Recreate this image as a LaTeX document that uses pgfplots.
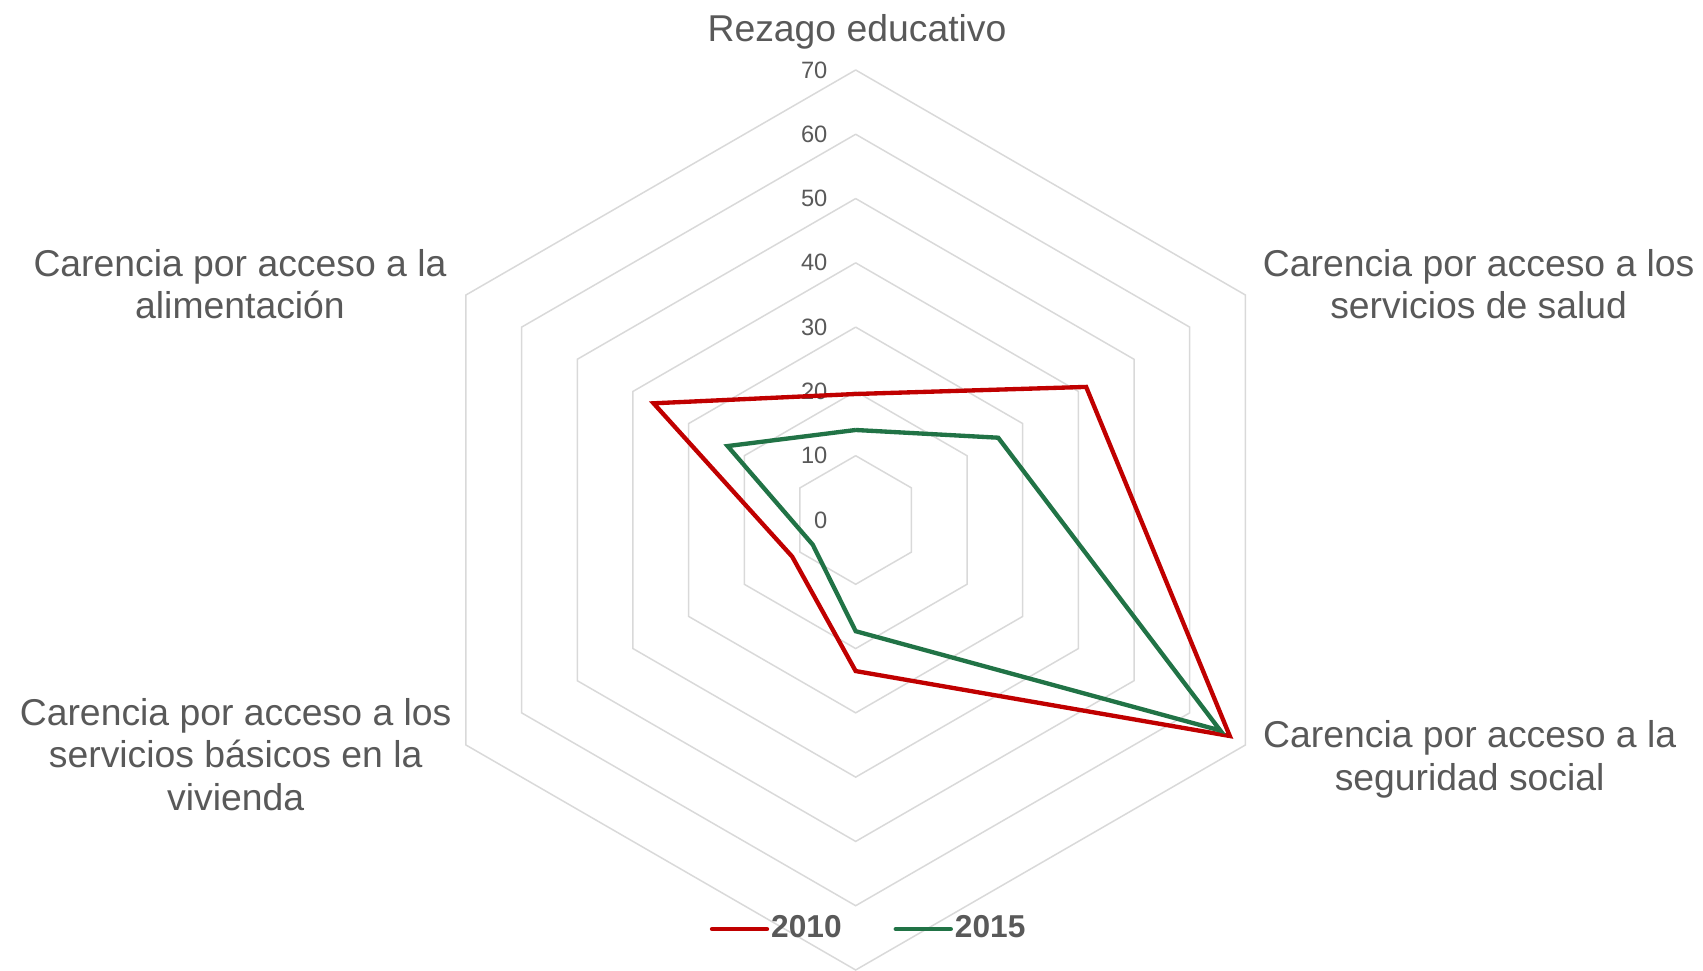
\documentclass[border=0pt]{standalone}
\usepackage{fontspec}
\setmainfont{Liberation Sans}
\usepackage{pgfplots}
\pgfplotsset{compat=1.18}
\usepgfplotslibrary{polar}

\definecolor{txt}{HTML}{595959}
\definecolor{gridc}{HTML}{D9D9D9}
\definecolor{c2010}{HTML}{C00000}
\definecolor{c2015}{HTML}{217346}

% radar rings, one hexagon per level
\pgfplotsset{ring/.style={forget plot, gridc, line width=0.45pt}}

\begin{document}
\begin{tikzpicture}
\path[use as bounding box] (0,0) rectangle (510.9pt,291.3pt);
\begin{polaraxis}[
  at={(256.7pt,135.3pt)}, anchor=center,
  scale only axis, width=270pt, height=270pt,
  ymin=0, ymax=70, hide axis, clip=false,
  legend columns=2,
  legend style={at={(0.5144,0.0455)}, anchor=center, draw=none, fill=none,
    font=\fontsize{9.5}{11}\selectfont\bfseries, text=txt,
    nodes={inner sep=0.6pt},
    /tikz/every even column/.append style={column sep=15pt}},
  legend image code/.code={\draw[#1, line cap=round] (0pt,0pt) -- (16.5pt,0pt);},
]
\addplot[ring] coordinates {(90,10)(30,10)(-30,10)(-90,10)(-150,10)(150,10)(90,10)};
\addplot[ring] coordinates {(90,20)(30,20)(-30,20)(-90,20)(-150,20)(150,20)(90,20)};
\addplot[ring] coordinates {(90,30)(30,30)(-30,30)(-90,30)(-150,30)(150,30)(90,30)};
\addplot[ring] coordinates {(90,40)(30,40)(-30,40)(-90,40)(-150,40)(150,40)(90,40)};
\addplot[ring] coordinates {(90,50)(30,50)(-30,50)(-90,50)(-150,50)(150,50)(90,50)};
\addplot[ring] coordinates {(90,60)(30,60)(-30,60)(-90,60)(-150,60)(150,60)(90,60)};
\addplot[ring] coordinates {(90,70)(30,70)(-30,70)(-90,70)(-150,70)(150,70)(90,70)};

\foreach \r in {0,10,...,70}{
  \edef\tmp{\noexpand\node[anchor=east, xshift=-8.3pt, inner sep=0pt, text=txt,
    font=\noexpand\fontsize{7.1}{8}\noexpand\selectfont] at (axis cs:90,\r) {\r};}
  \tmp
}

% 2010
\addplot[c2010, line width=1.3pt] coordinates {
  (90,19.6)(30,41.4)(-30,67.2)(-90,23.5)(-150,11.4)(150,36.3)(90,19.6)};
\addlegendentry{2010}
% 2015
\addplot[c2015, line width=1.3pt] coordinates {
  (90,14.0)(30,25.6)(-30,65.5)(-90,17.3)(-150,7.7)(150,23.0)(90,14.0)};
\addlegendentry{2015}
\end{polaraxis}

% base anchor of a multi-line node sits on its last line
\begin{scope}[every node/.style={text=txt, align=center, anchor=base, inner sep=0pt,
    font=\fontsize{11.2}{12.75}\selectfont}]
\node at (257.1pt,278.8pt) {Rezago educativo};
\node at (443.6pt,195.6pt) {Carencia por acceso a los\\servicios de salud};
\node at (440.9pt,54.15pt) {Carencia por acceso a la\\seguridad social};
\node at (70.7pt,48.15pt) {Carencia por acceso a los\\servicios básicos en la\\vivienda};
\node at (72pt,195.6pt) {Carencia por acceso a la\\alimentación};
\end{scope}
\end{tikzpicture}
\end{document}
